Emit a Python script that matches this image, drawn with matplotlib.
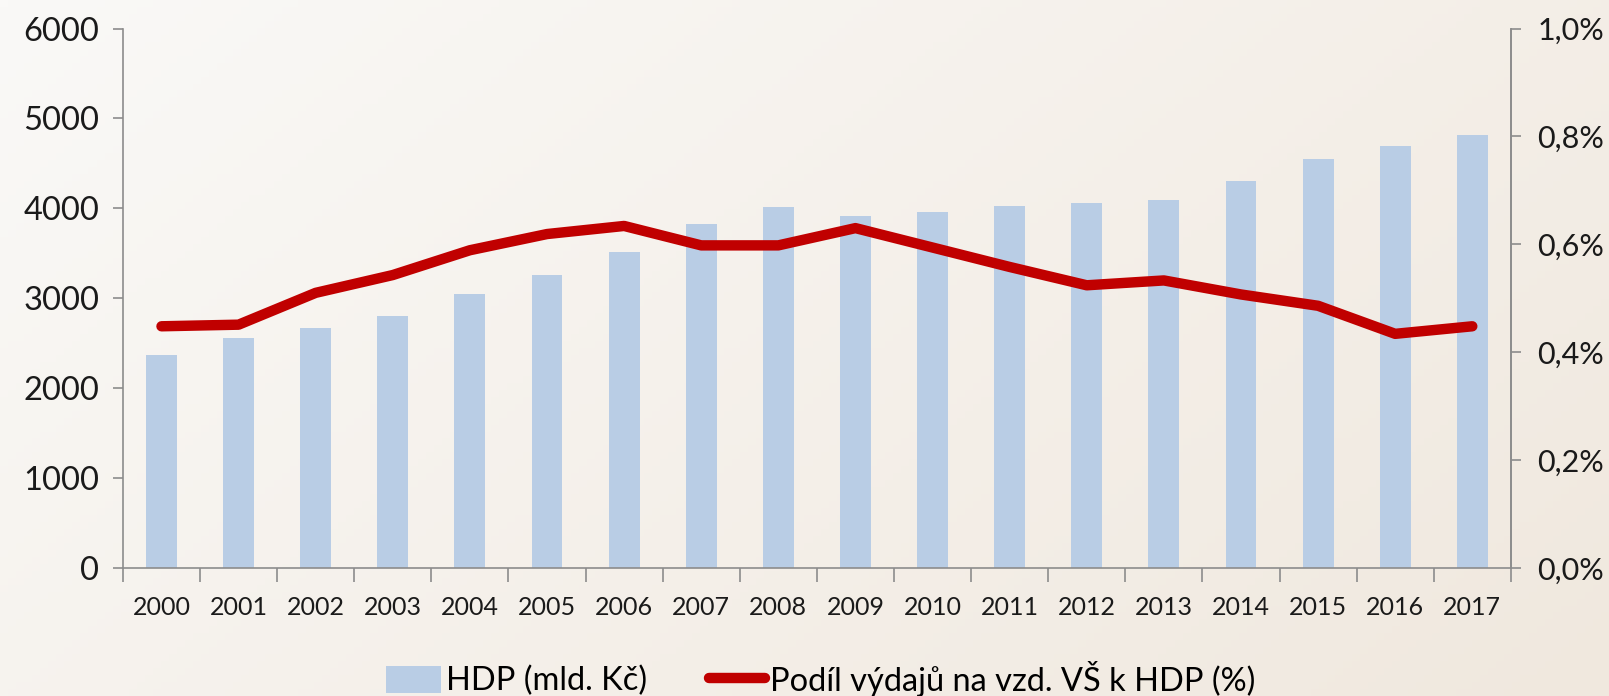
import numpy as np
import matplotlib
matplotlib.use("Agg")
import matplotlib.pyplot as plt
from matplotlib.ticker import FixedLocator, FuncFormatter
from matplotlib.patches import Patch
from matplotlib.lines import Line2D

years = [str(y) for y in range(2000, 2018)]
hdp = [2370, 2560, 2665, 2800, 3050, 3257, 3509, 3829, 4011, 3920,
       3954, 4023, 4057, 4091, 4309, 4549, 4697, 4811]
podil = [0.448, 0.451, 0.510, 0.543, 0.589, 0.619, 0.634, 0.598, 0.598, 0.630,
         0.594, 0.558, 0.524, 0.533, 0.507, 0.486, 0.434, 0.448]
left_ticks = [0, 1000, 2000, 3000, 4000, 5000, 6000]
right_ticks = [0.0, 0.2, 0.4, 0.6, 0.8, 1.0]
bar_label = "HDP (mld. Kč)"
line_label = "Podíl výdajů na vzd. VŠ k HDP (%)"

plt.rcParams['font.family'] = ['Lato', 'DejaVu Sans']

fig = plt.figure(figsize=(16.09, 6.96), dpi=100)

# gradient background
bg = fig.add_axes([0, 0, 1, 1], zorder=-10)
nx, ny = 200, 100
xx, yy = np.meshgrid(np.linspace(0, 1, nx), np.linspace(0, 1, ny))
t = np.clip(0.65 * xx + 0.35 * yy, 0, 1)
c0 = np.array([0xFA, 0xF9, 0xF7]) / 255
c1 = np.array([0xF0, 0xE8, 0xDE]) / 255
img = c0[None, None, :] * (1 - t[..., None]) + c1[None, None, :] * t[..., None]
bg.imshow(img, aspect='auto', extent=[0, 1, 0, 1], origin='upper')
bg.axis('off')

ax = fig.add_axes([0.0764, 0.184, 0.8626, 0.775])
ax.patch.set_alpha(0)
x = np.arange(len(years))
ax.bar(x, hdp, width=0.4, color='#B9CDE5', zorder=2)
ax.set_xlim(-0.5, len(years) - 0.5)
ax.set_ylim(0, 6000)
ax.yaxis.set_major_locator(FixedLocator(left_ticks))
ax.set_xticks(x)
ax.set_xticklabels(years, fontsize=18, color='#1a1a1a')
ax.tick_params(axis='x', length=0, pad=20)
ax.set_xticks(np.arange(-0.5, len(years), 1.0), minor=True)
ax.tick_params(axis='x', which='minor', length=10, color='#8c8c8c', width=1.2)
ax.tick_params(axis='y', length=7, color='#8c8c8c', width=1.2, labelsize=23.5, pad=10, labelcolor='#1a1a1a')
for s in ['top']:
    ax.spines[s].set_visible(False)
for s in ['left', 'bottom', 'right']:
    ax.spines[s].set_color('#8c8c8c')
    ax.spines[s].set_linewidth(1.2)

ax2 = ax.twinx()
ax2.plot(x, podil, color='#C00000', linewidth=7.5, solid_capstyle='round', zorder=3)
ax2.set_ylim(0, 1.0)
ax2.yaxis.set_major_locator(FixedLocator(right_ticks))
ax2.yaxis.set_major_formatter(FuncFormatter(lambda v, p: f"{v:.1f}".replace('.', ',') + '%'))
ax2.tick_params(axis='y', length=7, color='#8c8c8c', width=1.2, labelsize=22, pad=12, labelcolor='#1a1a1a')
for s in ['top', 'left', 'bottom']:
    ax2.spines[s].set_visible(False)
ax2.spines['right'].set_color('#8c8c8c')
ax2.spines['right'].set_linewidth(1.2)

handles = [Patch(facecolor='#B9CDE5', edgecolor='none'),
           Line2D([0], [0], color='#C00000', linewidth=7.5, solid_capstyle='round')]
fig.legend(handles, [bar_label, line_label], loc='center', bbox_to_anchor=(0.510, 0.025),
           ncol=2, frameon=False, fontsize=23.5, handlelength=1.7, handletextpad=0.15,
           columnspacing=1.9, handleheight=0.9)

fig.savefig('out.png', dpi=100)
